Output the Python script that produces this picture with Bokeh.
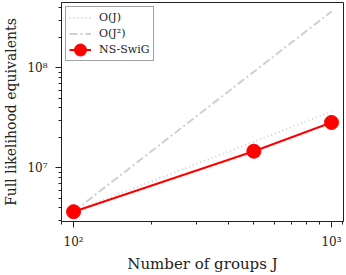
from bokeh.plotting import figure
from bokeh.models import FixedTicker, Range1d, Legend, LegendItem
from bokeh.embed import file_html
from bokeh.resources import INLINE

# data
groups = [100, 500, 1000]
ns_swig = [3.66e6, 1.47e7, 2.85e7]
ref_J = [100, 1000]
order_J = [3.66e6, 3.66e7]
order_J2 = [3.66e6, 3.66e8]
x_ticks = [100, 1000]
x_tick_labels = ["10²", "10³"]
y_ticks = [1e7, 1e8]
y_tick_labels = ["10⁷", "10⁸"]

FONT = "DejaVu Serif"

p = figure(width=345, height=275, x_axis_type="log", y_axis_type="log",
           x_range=Range1d(89.8, 1113), y_range=Range1d(2.92e6, 4.5e8),
           output_backend="svg", toolbar_location=None,
           min_border_left=61, min_border_right=2, min_border_top=2, min_border_bottom=52)

p.grid.visible = False
p.outline_line_color = "#222222"
p.outline_line_width = 1

r1 = p.line(ref_J, order_J, line_color="#d0d0d0", line_width=2, line_dash="1 3")
r2 = p.line(ref_J, order_J2, line_color="#d0d0d0", line_width=2, line_dash="8 3 2 3")
r3 = p.line(groups, ns_swig, line_color="#ff0000", line_width=2)
r4 = p.ellipse(groups, ns_swig, width=14, height=14, width_units="screen", height_units="screen",
               fill_color="#ff0000", line_color="#ff0000")

x_minor = [90, 200, 300, 400, 500, 600, 700, 800, 900, 1100]
y_minor = [3e6, 4e6, 5e6, 6e6, 7e6, 8e6, 9e6, 2e7, 3e7, 4e7, 5e7, 6e7, 7e7, 8e7, 9e7, 2e8, 3e8, 4e8]
p.xaxis.ticker = FixedTicker(ticks=x_ticks, minor_ticks=x_minor)
p.yaxis.ticker = FixedTicker(ticks=y_ticks, minor_ticks=y_minor)
p.xaxis.major_label_overrides = {t: l for t, l in zip(x_ticks, x_tick_labels)}
p.yaxis.major_label_overrides = {t: l for t, l in zip(y_ticks, y_tick_labels)}

for ax in (p.xaxis, p.yaxis):
    ax.major_tick_out = 6
    ax.major_tick_in = 0
    ax.minor_tick_out = 3
    ax.minor_tick_in = 0
    ax.axis_line_color = "#222222"
    ax.major_tick_line_color = "#222222"
    ax.minor_tick_line_color = "#222222"
    ax.major_label_text_font = FONT
    ax.major_label_text_font_size = "12px"
    ax.major_label_text_color = "#222222"
    ax.axis_label_text_font = FONT
    ax.axis_label_text_font_style = "normal"
    ax.axis_label_text_color = "#222222"

p.xaxis.axis_label_text_font_size = "15px"
p.yaxis.axis_label_text_font_size = "14px"
p.yaxis.major_label_orientation = "horizontal"
p.yaxis.major_label_standoff = 8
p.xaxis.major_label_standoff = 7
p.xaxis.axis_label = "Number of groups J"
p.yaxis.axis_label = "Full likelihood equivalents"
p.xaxis.axis_label_standoff = 3
p.yaxis.axis_label_standoff = 5

legend = Legend(items=[
    LegendItem(label="O(J)", renderers=[r1]),
    LegendItem(label="O(J²)", renderers=[r2]),
    LegendItem(label="NS-SwiG", renderers=[r3, r4]),
], location="top_left")
legend.label_text_font = FONT
legend.label_text_font_size = "11px"
legend.label_text_color = "#222222"
legend.border_line_color = "#444444"
legend.border_line_width = 1
legend.padding = 3
legend.spacing = 1
legend.margin = 4
legend.glyph_width = 22
legend.glyph_height = 15
legend.label_height = 15
legend.label_standoff = 8
legend.background_fill_alpha = 1
p.add_layout(legend)

open("out.html", "w").write(file_html(p, INLINE))
